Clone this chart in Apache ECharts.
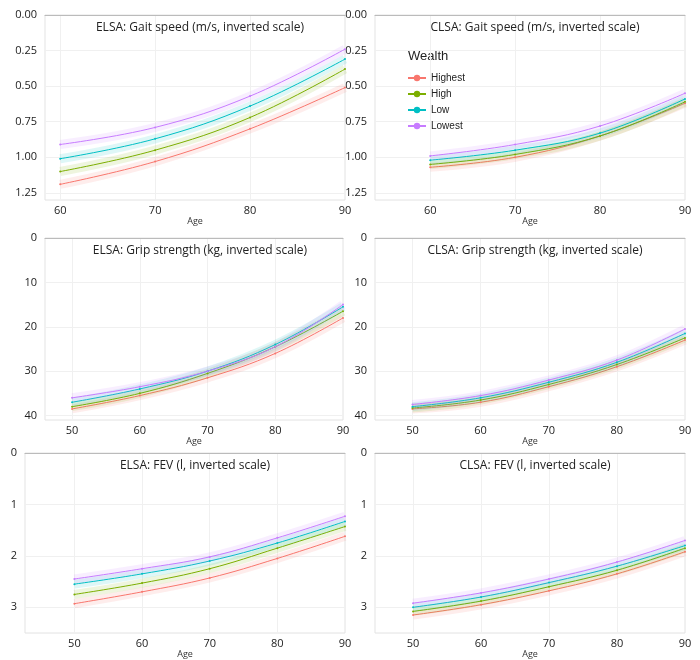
<!DOCTYPE html>
<html>
<head>
<meta charset="utf-8">
<script src="https://cdn.jsdelivr.net/npm/echarts@6/dist/echarts.min.js"></script>
<style>html,body{margin:0;background:#fff}#main{width:700px;height:660px}</style>
</head>
<body>
<div id="main"></div>
<script>
const groups = ['Highest', 'High', 'Low', 'Lowest'];
const colors = ['#F8766D', '#7CAE00', '#00BFC4', '#C77CFF'];

const gaitAges = [60, 70, 80, 90];
const elsaGait = [
  [1.19, 1.03, 0.80, 0.51],
  [1.10, 0.95, 0.72, 0.38],
  [1.01, 0.87, 0.64, 0.31],
  [0.91, 0.79, 0.57, 0.24]
];
const clsaGait = [
  [1.07, 1.00, 0.85, 0.62],
  [1.05, 0.98, 0.85, 0.61],
  [1.02, 0.95, 0.83, 0.59],
  [0.99, 0.91, 0.78, 0.55]
];

const ages = [50, 60, 70, 80, 90];
const elsaGrip = [
  [38.5, 35.5, 31.5, 26.0, 18.0],
  [38.0, 35.0, 30.5, 24.5, 16.5],
  [37.0, 34.0, 30.0, 24.0, 15.5],
  [36.0, 33.5, 30.0, 24.5, 15.0]
];
const clsaGrip = [
  [38.5, 37.0, 33.5, 29.0, 23.0],
  [38.3, 36.5, 33.0, 28.5, 22.5],
  [38.0, 36.0, 32.5, 28.0, 21.5],
  [37.5, 35.5, 32.0, 27.5, 20.5]
];
const elsaFev = [
  [2.93, 2.70, 2.43, 2.05, 1.62],
  [2.75, 2.53, 2.25, 1.85, 1.43],
  [2.55, 2.35, 2.10, 1.75, 1.33],
  [2.45, 2.25, 2.02, 1.65, 1.23]
];
const clsaFev = [
  [3.15, 2.95, 2.68, 2.35, 1.92],
  [3.08, 2.88, 2.60, 2.28, 1.85],
  [3.00, 2.80, 2.52, 2.20, 1.80],
  [2.92, 2.72, 2.45, 2.12, 1.70]
];

const panels = [
  { title: 'ELSA: Gait speed (m/s, inverted scale)', data: elsaGait, xs: gaitAges, ticks: [60, 70, 80, 90], grid: [45, 15, 300, 185], xmin: 58.4, ymax: 1.3, yint: 0.25, dec: 2, tx: 195 },
  { title: 'CLSA: Gait speed (m/s, inverted scale)', data: clsaGait, xs: gaitAges, ticks: [60, 70, 80, 90], grid: [375, 15, 310, 185], xmin: 53.5, ymax: 1.3, yint: 0.25, dec: 2, tx: 530 },
  { title: 'ELSA: Grip strength (kg, inverted scale)', data: elsaGrip, xs: ages, ticks: ages, grid: [45, 238, 298, 182], xmin: 46, ymax: 41, yint: 10, dec: 0, tx: 195 },
  { title: 'CLSA: Grip strength (kg, inverted scale)', data: clsaGrip, xs: ages, ticks: ages, grid: [375, 238, 310, 182], xmin: 44.5, ymax: 41, yint: 10, dec: 0, tx: 530 },
  { title: 'ELSA: FEV (l, inverted scale)', data: elsaFev, xs: ages, ticks: ages, grid: [25, 453, 320, 187], xmin: 42.7, ymax: 3.5, yint: 1, dec: 0, tx: 190 },
  { title: 'CLSA: FEV (l, inverted scale)', data: clsaFev, xs: ages, ticks: ages, grid: [375, 453, 310, 187], xmin: 44.4, ymax: 3.5, yint: 1, dec: 0, tx: 530 }
];

const font = 'Open Sans';
const grid = [], xAxis = [], yAxis = [], series = [], title = [];
panels.forEach((p, i) => {
  grid.push({ left: p.grid[0], top: p.grid[1], width: p.grid[2], height: p.grid[3],
    show: true, borderColor: '#e3e3e3', borderWidth: 1 });
  title.push({ text: p.title, left: p.tx, top: p.grid[1] + 2, textAlign: 'center',
    textStyle: { fontFamily: font, fontSize: 12, fontWeight: 'normal', color: '#222' } });
  xAxis.push({ type: 'value', gridIndex: i, min: p.xmin, max: 90,
    name: 'Age', nameLocation: 'middle', nameGap: 17,
    nameTextStyle: { fontSize: 9, color: '#333', fontFamily: font },
    axisLine: { lineStyle: { color: '#bbb' } },
    axisTick: { show: false, customValues: p.ticks },
    axisLabel: { color: '#222', fontSize: 11, fontFamily: font, margin: 5, customValues: p.ticks },
    splitLine: { lineStyle: { color: '#f0f0f0' } } });
  yAxis.push({ type: 'value', gridIndex: i, inverse: true, min: 0, max: p.ymax, interval: p.yint,
    axisLine: { show: false }, axisTick: { show: false },
    axisLabel: { color: '#222', fontSize: 11, fontFamily: font, showMaxLabel: false,
      formatter: v => v.toFixed(p.dec) },
    splitLine: { lineStyle: { color: '#f0f0f0' } } });
  p.data.forEach((vals, g) => {
    const pts = p.xs.map((a, k) => [a, vals[k]]);
    series.push({ name: 'band' + i + g, type: 'line', xAxisIndex: i, yAxisIndex: i, smooth: 0.4,
      data: pts, showSymbol: false, silent: true,
      lineStyle: { color: colors[g], width: 9, opacity: 0.13 } });
    series.push({ name: groups[g], type: 'line', xAxisIndex: i, yAxisIndex: i, smooth: 0.4,
      data: pts, symbol: 'circle', symbolSize: 2,
      itemStyle: { color: colors[g] }, lineStyle: { color: colors[g], width: 1 } });
  });
});

const chart = echarts.init(document.getElementById('main'));
chart.setOption({
  animation: false,
  title,
  grid, xAxis, yAxis, series,
  legend: { data: groups, orient: 'vertical', left: 402, top: 68, itemGap: 6,
    itemWidth: 18, itemHeight: 8,
    textStyle: { fontSize: 10, color: '#222', fontFamily: 'Liberation Sans' } },
  graphic: [{ type: 'text', left: 408, top: 50,
    style: { text: 'Wealth', fontSize: 13, fill: '#222', fontFamily: 'Liberation Sans' } }]
});
</script>
</body>
</html>
